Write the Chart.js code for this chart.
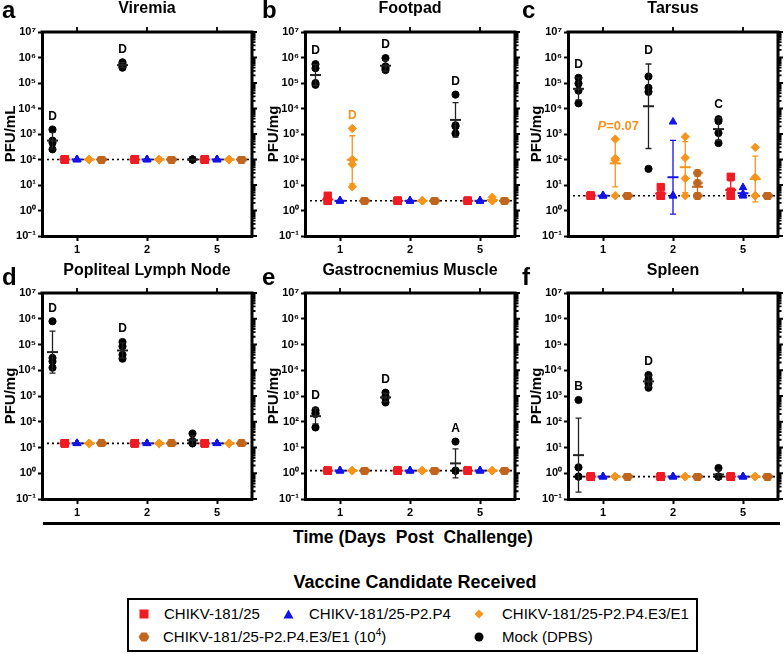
<!DOCTYPE html>
<html>
<head>
<meta charset="utf-8">
<script src="https://cdn.jsdelivr.net/npm/chart.js@4.4.1/dist/chart.umd.min.js"></script>
<style>
  body { margin: 0; background: #fff; font-family: "Liberation Sans", Arial, sans-serif; }
  #page { position: relative; width: 784px; height: 654px; overflow: hidden; background: #fff; }
  #page canvas { position: absolute; }
  #sep { position: absolute; left: 43px; top: 522px; width: 737px; height: 3px; background: #000; }
  #timeLabel { position: absolute; left: 0; width: 826px; top: 527px; text-align: center; font-weight: bold; font-size: 17.5px; white-space: pre; }
  #legTitle { position: absolute; left: 0; width: 830px; top: 572px; text-align: center; font-weight: bold; font-size: 18px; }
  #legBox { position: absolute; left: 127px; top: 598px; width: 567px; height: 50px; border: 2px solid #000; }
  .leg { position: absolute; font-size: 15px; line-height: 18px; white-space: nowrap; }
  .leg svg { position: absolute; }
  .leg sup { font-size: 10px; vertical-align: 6px; line-height: 0; }
</style>
</head>
<body>
<div id="page">
  <div id="sep"></div>
  <div id="timeLabel">Time (Days  Post  Challenge)</div>
  <div id="legTitle">Vaccine Candidate Received</div>
  <div id="legBox"></div>
  <div class="leg" style="left:139px;top:605px"><svg width="10" height="10" style="left:0;top:4px"><rect x="0.5" y="0.5" width="9" height="9" fill="#ee1c24"/></svg><span style="margin-left:25px">CHIKV-181/25</span></div>
  <div class="leg" style="left:283px;top:605px"><svg width="11" height="10" style="left:0;top:4px"><polygon points="5.5,0.5 10.5,9.5 0.5,9.5" fill="#1414e6"/></svg><span style="margin-left:26px">CHIKV-181/25-P2.P4</span></div>
  <div class="leg" style="left:474px;top:605px"><svg width="10" height="10" style="left:0;top:4px"><polygon points="5,0.5 9.5,5 5,9.5 0.5,5" fill="#f7941d"/></svg><span style="margin-left:28px">CHIKV-181/25-P2.P4.E3/E1</span></div>
  <div class="leg" style="left:138px;top:628px"><svg width="12" height="10" style="left:0;top:4px"><polygon points="0.5,5 3.5,0.5 8.5,0.5 11.5,5 8.5,9.5 3.5,9.5" fill="#c0651e"/></svg><span style="margin-left:25px">CHIKV-181/25-P2.P4.E3/E1 (10<sup>4</sup>)</span></div>
  <div class="leg" style="left:474px;top:628px"><svg width="10" height="10" style="left:0;top:4px"><circle cx="5" cy="5" r="4.5" fill="#000"/></svg><span style="margin-left:28px">Mock (DPBS)</span></div>
</div>
<script>
// ---- data (titres per group, per day) ----
const days = ['1', '2', '5'];
const groupNames = ['Mock (DPBS)', 'CHIKV-181/25', 'CHIKV-181/25-P2.P4', 'CHIKV-181/25-P2.P4.E3/E1', 'CHIKV-181/25-P2.P4.E3/E1 (10^4)'];
const panelTitles = ['Viremia', 'Footpad', 'Tarsus', 'Popliteal Lymph Node', 'Gastrocnemius Muscle', 'Spleen'];
const panelLetters = ['a', 'b', 'c', 'd', 'e', 'f'];
const yTitles = ['PFU/mL', 'PFU/mg', 'PFU/mg', 'PFU/mg', 'PFU/mg', 'PFU/mg'];
const detectionLimits = [100, 2.4, 3.8, 14.5, 1.26, 0.74];
const yTickValues = [0.1, 1, 10, 100, 1e3, 1e4, 1e5, 1e6, 1e7];
const yTickLabels = ['10⁻¹', '10⁰', '10¹', '10²', '10³', '10⁴', '10⁵', '10⁶', '10⁷'];

// group order: mock, 181/25, P2.P4, P2.P4.E3/E1, P2.P4.E3/E1 (10^4); inner arrays = day 1, 2, 5
const viremia = [
  [[1500, 550, 450, 250], [650000, 550000, 450000, 400000], [100, 100, 100, 100]],
  [[100, 100, 100, 100], [100, 100, 100, 100], [100, 100, 100, 100]],
  [[100, 100, 100, 100], [100, 100, 100, 100], [100, 100, 100, 100]],
  [[100, 100, 100, 100], [100, 100, 100, 100], [100, 100, 100, 100]],
  [[100, 100, 100, 100], [100, 100, 100, 100], [100, 100, 100, 100]]
];
const footpad = [
  [[550000, 380000, 100000, 85000], [950000, 450000, 380000, 320000], [35000, 2200, 2000, 1050]],
  [[3.8, 2.4, 2.4, 2.4], [2.4, 2.4, 2.4, 2.4], [2.4, 2.4, 2.4, 2.4]],
  [[2.4, 2.4, 2.4, 2.4], [2.4, 2.4, 2.4, 2.4], [2.4, 2.4, 2.4, 2.4]],
  [[1650, 100, 65, 8.5], [2.4, 2.4, 2.4, 2.4], [3.3, 2.4, 2.4, 2.4]],
  [[2.4, 2.4, 2.4, 2.4], [2.4, 2.4, 2.4, 2.4], [2.4, 2.4, 2.4, 2.4]]
];
const tarsus = [
  [[160000, 95000, 50000, 16000], [180000, 65000, 45000, 43], [3800, 3200, 1100, 440]],
  [[3.8, 3.8, 3.8, 3.8], [8.3, 3.8, 3.8, 3.8], [21, 5.5, 3.8, 3.8]],
  [[3.8, 3.8, 3.8, 3.8], [3000, 3.8, 3.8, 3.8], [8, 4.5, 3.8, 3.8]],
  [[630, 110, 95, 3.8], [780, 117, 18, 3.8], [300, 20, 3.8, 3.8]],
  [[3.8, 3.8, 3.8, 3.8], [30, 12, 3.8, 3.8], [3.8, 3.8, 3.8, 3.8]]
];
const lymphNode = [
  [[800000, 30000, 22000, 12500], [125000, 85000, 40000, 28000], [35, 18, 14.5, 14.5]],
  [[14.5, 14.5, 14.5, 14.5], [14.5, 14.5, 14.5, 14.5], [14.5, 14.5, 14.5, 14.5]],
  [[14.5, 14.5, 14.5, 14.5], [14.5, 14.5, 14.5, 14.5], [14.5, 14.5, 14.5, 14.5]],
  [[14.5, 14.5, 14.5, 14.5], [14.5, 14.5, 14.5, 14.5], [14.5, 14.5, 14.5, 14.5]],
  [[14.5, 14.5, 14.5, 14.5], [14.5, 14.5, 14.5, 14.5], [14.5, 14.5, 14.5, 14.5]]
];
const muscle = [
  [[280, 220, 200, 60], [1350, 1000, 800, 560], [17, 1.26, 1.26, 1.26]],
  [[1.26, 1.26, 1.26, 1.26], [1.26, 1.26, 1.26, 1.26], [1.26, 1.26, 1.26, 1.26]],
  [[1.26, 1.26, 1.26, 1.26], [1.26, 1.26, 1.26, 1.26], [1.26, 1.26, 1.26, 1.26]],
  [[1.26, 1.26, 1.26, 1.26], [1.26, 1.26, 1.26, 1.26], [1.26, 1.26, 1.26, 1.26]],
  [[1.26, 1.26, 1.26, 1.26], [1.26, 1.26, 1.26, 1.26], [1.26, 1.26, 1.26, 1.26]]
];
const spleen = [
  [[700, 1.7, 0.74, 0.74], [6500, 4500, 3000, 2100], [1.6, 0.74, 0.74, 0.74]],
  [[0.74, 0.74, 0.74, 0.74], [0.74, 0.74, 0.74, 0.74], [0.74, 0.74, 0.74, 0.74]],
  [[0.74, 0.74, 0.74, 0.74], [0.74, 0.74, 0.74, 0.74], [0.74, 0.74, 0.74, 0.74]],
  [[0.74, 0.74, 0.74, 0.74], [0.74, 0.74, 0.74, 0.74], [0.74, 0.74, 0.74, 0.74]],
  [[0.74, 0.74, 0.74, 0.74], [0.74, 0.74, 0.74, 0.74], [0.74, 0.74, 0.74, 0.74]]
];

// significance letters: [day index, group index, text]
const viremiaMarks = [[0, 0, 'D'], [1, 0, 'D']];
const footpadMarks = [[0, 0, 'D'], [0, 3, 'D'], [1, 0, 'D'], [2, 0, 'D']];
const tarsusMarks = [[0, 0, 'D'], [0, 3, 'P=0.07'], [1, 0, 'D'], [2, 0, 'C']];
const lymphNodeMarks = [[0, 0, 'D'], [1, 0, 'D']];
const muscleMarks = [[0, 0, 'D'], [1, 0, 'D'], [2, 0, 'A']];
const spleenMarks = [[0, 0, 'B'], [1, 0, 'D']];

const panelData = [viremia, footpad, tarsus, lymphNode, muscle, spleen];
const panelMarks = [viremiaMarks, footpadMarks, tarsusMarks, lymphNodeMarks, muscleMarks, spleenMarks];

// ---- styling / layout ----
const FONT = "'Liberation Sans', Arial, sans-serif";
Chart.defaults.font.family = FONT;
Chart.defaults.color = '#000';

const groupColors = ['#000000', '#ee1c24', '#1414e6', '#f7941d', '#c0651e'];
const barColors = ['#222222', '#ee1c24', '#1414e6', '#f7941d', '#c0651e'];
const groupOffsets = [-0.35, -0.175, 0, 0.175, 0.35];
const columnLefts = [42, 305, 568];
const rowTops = [32, 293];
const rowHeights = [204, 206];
const letterX = [2, 262, 522];
const letterBase = [18, 24];
const PLOT_W = 210, AXIS_W = 46, TOP_PAD = 32, X_AXIS_H = 22;

function hexagon(color) {
  const c = document.createElement('canvas');
  c.width = 10; c.height = 8;
  const ctx = c.getContext('2d');
  ctx.fillStyle = color;
  ctx.beginPath();
  ctx.moveTo(0, 4); ctx.lineTo(2.8, 0); ctx.lineTo(7.2, 0);
  ctx.lineTo(10, 4); ctx.lineTo(7.2, 8); ctx.lineTo(2.8, 8);
  ctx.closePath(); ctx.fill();
  return c;
}
const pointStyles = ['circle', 'rect', 'triangle', 'rectRot', hexagon(groupColors[4])];
const pointRadii = [3.6, 5.2, 4.4, 4.2, 4];

function geoStats(vals) {
  const logs = vals.map(v => Math.log10(v));
  const m = logs.reduce((a, b) => a + b, 0) / logs.length;
  const sd = Math.sqrt(logs.reduce((a, b) => a + (b - m) * (b - m), 0) / (logs.length - 1));
  return { m, sd };
}

const page = document.getElementById('page');

function buildPanel(i) {
  const col = i % 3, row = Math.floor(i / 3);
  const plotLeft = columnLefts[col], plotTop = rowTops[row], plotH = rowHeights[row];
  const canvasLeft = plotLeft - AXIS_W, canvasTop = plotTop - TOP_PAD;
  const cv = document.createElement('canvas');
  cv.width = AXIS_W + PLOT_W + 10;
  cv.height = TOP_PAD + plotH + X_AXIS_H;
  cv.style.left = canvasLeft + 'px';
  cv.style.top = canvasTop + 'px';
  page.appendChild(cv);

  const values = panelData[i];
  const lod = detectionLimits[i];

  const datasets = values.map((grp, g) => ({
    label: groupNames[g],
    data: grp.flatMap((vals, d) => vals.map(v => ({ x: d + groupOffsets[g], y: v }))),
    pointStyle: pointStyles[g],
    pointRadius: pointRadii[g],
    backgroundColor: groupColors[g],
    borderColor: groupColors[g],
    borderWidth: g === 4 ? 0 : 1,
    order: 1
  }));
  datasets.push({
    type: 'line',
    label: 'limit',
    data: [{ x: -0.5, y: lod }, { x: 2.5, y: lod }],
    borderColor: '#000', borderWidth: 1.6, borderDash: [2, 3],
    pointRadius: 0, order: 9
  });

  const decor = {
    id: 'decor' + i,
    afterDatasetsDraw(chart) {
      const ctx = chart.ctx, xs = chart.scales.x, ys = chart.scales.y;
      ctx.save();
      values.forEach((grp, g) => {
        grp.forEach((vals, d) => {
          const st = geoStats(vals);
          const x = xs.getPixelForValue(d + groupOffsets[g]);
          const yM = ys.getPixelForValue(Math.pow(10, st.m));
          ctx.strokeStyle = barColors[g];
          if (st.sd > 0.02) {
            const yHi = ys.getPixelForValue(Math.pow(10, st.m + st.sd));
            const yLo = ys.getPixelForValue(Math.pow(10, st.m - st.sd));
            ctx.lineWidth = 1.3;
            ctx.beginPath();
            ctx.moveTo(x, yHi); ctx.lineTo(x, yLo);
            ctx.moveTo(x - 3, yHi); ctx.lineTo(x + 3, yHi);
            ctx.moveTo(x - 3, yLo); ctx.lineTo(x + 3, yLo);
            ctx.stroke();
          }
          ctx.lineWidth = 2;
          ctx.beginPath();
          ctx.moveTo(x - 5.5, yM); ctx.lineTo(x + 5.5, yM);
          ctx.stroke();
        });
      });
      // significance letters
      panelMarks[i].forEach(([d, g, text]) => {
        const vals = values[d] ? values[g][d] : [];
        const st = geoStats(values[g][d]);
        const yTop = Math.min(ys.getPixelForValue(Math.max(...values[g][d])),
                              ys.getPixelForValue(Math.pow(10, st.m + st.sd)));
        const x = xs.getPixelForValue(d + groupOffsets[g]);
        const y = yTop - 13;
        ctx.fillStyle = g === 3 ? groupColors[3] : '#000';
        ctx.textBaseline = 'middle';
        if (text.startsWith('P=')) {
          ctx.font = 'italic bold 13px ' + FONT;
          const w1 = ctx.measureText('P').width;
          ctx.font = 'bold 13px ' + FONT;
          const w2 = ctx.measureText(text.slice(1)).width;
          const x0 = x + 3 - (w1 + w2) / 2;
          ctx.textAlign = 'left';
          ctx.font = 'italic bold 13px ' + FONT;
          ctx.fillText('P', x0, y);
          ctx.font = 'bold 13px ' + FONT;
          ctx.fillText(text.slice(1), x0 + w1, y);
        } else {
          ctx.font = 'bold 12px ' + FONT;
          ctx.textAlign = 'center';
          ctx.fillText(text, x, y);
        }
      });
      ctx.restore();
    },
    afterDraw(chart) {
      const ctx = chart.ctx, a = chart.chartArea, xs = chart.scales.x, ys = chart.scales.y;
      ctx.save();
      ctx.strokeStyle = '#000';
      // top and right frame
      ctx.lineWidth = 3;
      ctx.beginPath();
      ctx.moveTo(a.left - 1.5, a.top); ctx.lineTo(a.right, a.top);
      ctx.moveTo(a.right, a.top - 1.5); ctx.lineTo(a.right, a.bottom + 1.5);
      ctx.stroke();
      // right minor / major ticks
      ctx.lineWidth = 1.8;
      ctx.beginPath();
      for (let k = -1; k < 7; k++) {
        for (let m = 1; m < 10; m++) {
          const y = ys.getPixelForValue(m * Math.pow(10, k));
          ctx.moveTo(a.right, y); ctx.lineTo(a.right + (m === 1 ? 5 : 3.5), y);
        }
      }
      ctx.moveTo(a.right, a.top); ctx.lineTo(a.right + 5, a.top);
      // top category ticks
      [0, 1, 2].forEach(d => {
        const x = xs.getPixelForValue(d);
        ctx.moveTo(x, a.top); ctx.lineTo(x, a.top - 5);
      });
      ctx.stroke();
      // panel title and letter
      ctx.fillStyle = '#000';
      ctx.textBaseline = 'alphabetic';
      ctx.textAlign = 'center';
      ctx.font = 'bold 16px ' + FONT;
      ctx.fillText(panelTitles[i], (a.left + a.right) / 2, row === 0 ? 13 : 14);
      ctx.textAlign = 'left';
      ctx.font = 'bold 24px ' + FONT;
      ctx.fillText(panelLetters[i], letterX[col] - canvasLeft, letterBase[row]);
      ctx.restore();
    }
  };

  new Chart(cv, {
    type: 'scatter',
    data: { datasets },
    options: {
      responsive: false,
      animation: false,
      events: [],
      layout: { padding: { top: TOP_PAD, right: 10, left: 0, bottom: 0 } },
      plugins: { legend: { display: false }, tooltip: { enabled: false } },
      scales: {
        x: {
          type: 'linear', min: -0.5, max: 2.5,
          afterBuildTicks: s => { s.ticks = [0, 1, 2].map(v => ({ value: v })); },
          afterFit: s => { s.height = X_AXIS_H; },
          ticks: { callback: v => days[v], font: { size: 11, weight: 'bold' }, padding: 2, maxRotation: 0, autoSkip: false },
          grid: { drawOnChartArea: false, drawTicks: true, tickLength: 5, tickWidth: 2, tickColor: '#000' },
          border: { display: true, width: 3, color: '#000' }
        },
        y: {
          type: 'logarithmic', min: 0.1, max: 1e7,
          afterBuildTicks: s => { s.ticks = yTickValues.map(v => ({ value: v })); },
          afterFit: s => { s.width = AXIS_W; },
          ticks: { callback: (v, idx) => yTickLabels[idx], font: { size: 11, weight: 'bold' }, padding: 2, autoSkip: false },
          grid: { drawOnChartArea: false, drawTicks: true, tickLength: 4, tickWidth: 2, tickColor: '#000' },
          border: { display: true, width: 3, color: '#000' },
          title: { display: true, text: yTitles[i], font: { size: 15, weight: 'bold' }, padding: { top: 6, bottom: 0 } }
        }
      }
    },
    plugins: [decor]
  });
}

for (let i = 0; i < 6; i++) buildPanel(i);
</script>
</body>
</html>
